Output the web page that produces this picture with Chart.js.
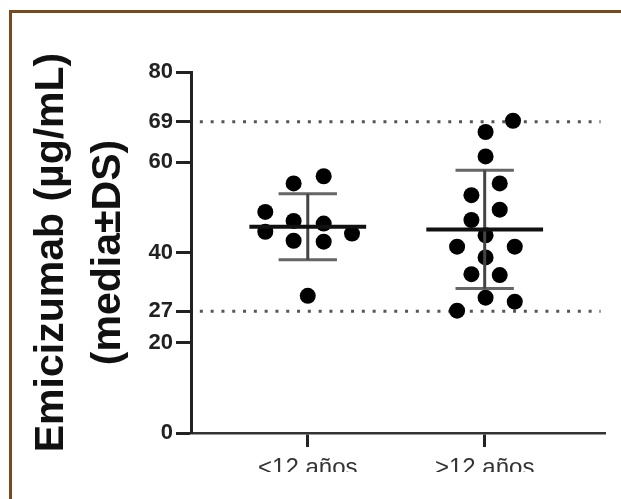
<!DOCTYPE html>
<html>
<head>
<meta charset="utf-8">
<script src="https://cdn.jsdelivr.net/npm/chart.js@4"></script>
<style>
  html, body { margin: 0; padding: 0; background: #fff; width: 621px; height: 499px; overflow: hidden; }
  #clip { position: absolute; left: 0; top: 0; width: 621px; height: 472px; overflow: hidden; }
  #frame { position: absolute; left: 9px; top: 10px; right: 0; bottom: 0;
           border-left: 3px solid #774a20; border-top: 3px solid #774a20; pointer-events: none; }
</style>
</head>
<body>
<div id="clip"><canvas id="myChart" width="621" height="499" style="width:621px;height:499px"></canvas></div>
<div id="frame"></div>
<script>
const groups = ["<12 años", ">12 años"];
// individual levels, with their sideways spread
const under12Values = [55.3, 56.9, 49.0, 44.6, 47.0, 42.6, 46.4, 42.4, 44.2, 30.4];
const under12Offsets = [-0.08, 0.09, -0.24, -0.24, -0.08, -0.08, 0.09, 0.09, 0.25, 0];
const over12Values = [69.2, 66.7, 61.3, 55.3, 52.7, 49.5, 47.2, 43.8, 41.3, 41.3, 38.9, 35.2, 35.0, 30.0, 29.1, 27.1];
const over12Offsets = [0.16, 0.005, 0.005, 0.085, -0.075, 0.085, -0.075, 0.005, -0.156, 0.17, 0.005, -0.075, 0.085, 0.005, 0.17, -0.156];
const means = [45.7, 45.1];
const sds = [7.3, 13.1];
const referenceLines = [27, 69];
const yTicks = [0, 20, 27, 40, 60, 69, 80];

const FONT = "'Liberation Sans', Arial, sans-serif";

const dots = (vals, offs, g) => vals.map((v, i) => ({ x: g + offs[i], y: v }));
const seg = (x1, y1, x2, y2) => [{ x: x1, y: y1 }, { x: x2, y: y2 }];

const datasets = [];
datasets.push({ type: "scatter", data: dots(under12Values, under12Offsets, 1), pointRadius: 8,
  backgroundColor: "#000", borderWidth: 0, order: 2 });
datasets.push({ type: "scatter", data: dots(over12Values, over12Offsets, 2), pointRadius: 8,
  backgroundColor: "#000", borderWidth: 0, order: 2 });

const lineDs = (data, color, width, order, dash) => ({
  type: "line", data, borderColor: color, borderWidth: width, pointRadius: 0,
  borderDash: dash || [], fill: false, order, borderCapStyle: "butt"
});

means.forEach((m, i) => {
  const g = i + 1, sd = sds[i];
  datasets.push(lineDs(seg(g, m - sd, g, m + sd), "#444", 3, 1));
  datasets.push(lineDs(seg(g - 0.165, m + sd, g + 0.165, m + sd), "#666", 3, 1));
  datasets.push(lineDs(seg(g - 0.165, m - sd, g + 0.165, m - sd), "#666", 3, 1));
  datasets.push(lineDs(seg(g - 0.33, m, g + 0.33, m), "#111", 4, 0));
});
referenceLines.forEach(r => {
  datasets.push(lineDs(seg(0.39, r, 2.655, r), "#555", 3, 3, [3, 7.8]));
});

new Chart(document.querySelector("#myChart"), {
  type: "scatter",
  data: { datasets },
  options: {
    responsive: false,
    animation: false,
    layout: { padding: { top: 72, right: 16, bottom: 0, left: 0 } },
    plugins: { legend: { display: false }, tooltip: { enabled: false } },
    scales: {
      x: {
        type: "linear", min: 0.34, max: 2.68,
        afterBuildTicks: s => { s.ticks = [{ value: 1 }, { value: 2 }]; },
        afterFit: s => { s.height = 66; },
        ticks: { callback: v => groups[v - 1], font: { family: FONT, size: 24 }, color: "#333", padding: 7 },
        grid: { drawOnChartArea: false, tickLength: 14, tickWidth: 3, tickColor: "#222" },
        border: { color: "#333", width: 2.5 }
      },
      y: {
        min: 0, max: 80,
        afterBuildTicks: s => { s.ticks = yTicks.map(v => ({ value: v })); },
        afterFit: s => { s.width = 191; },
        ticks: { autoSkip: false, font: { family: FONT, size: 22, weight: "bold" }, color: "#222", padding: 3 },
        grid: { drawOnChartArea: false, tickLength: 15, tickWidth: 3, tickColor: "#222" },
        border: { color: "#222", width: 3 },
        title: {
          display: true,
          text: ["Emicizumab (µg/mL)", "(media±DS)"],
          font: { family: FONT, size: 41, weight: "bold", lineHeight: 1.37 },
          color: "#111",
          padding: { top: 24, bottom: 0 }
        }
      }
    }
  }
});
</script>
</body>
</html>
